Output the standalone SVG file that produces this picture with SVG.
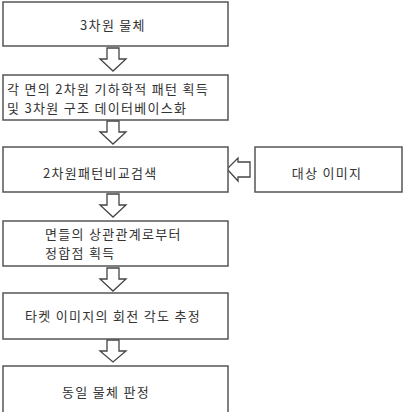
<svg xmlns="http://www.w3.org/2000/svg" width="405" height="412" viewBox="0 0 405 412">
<style>
.box{fill:#fff;stroke:#555;stroke-width:1.5}
.arr{fill:#fff;stroke:#444;stroke-width:1.3;stroke-linejoin:miter}
text{font-family:"Noto Sans CJK KR","Noto Sans",sans-serif;font-size:13px;fill:#333;letter-spacing:1.3px}
.c{text-anchor:middle}
</style>
<rect width="405" height="412" fill="#fff"/>
<g id="connectors">
<polygon class="arr" points="107,48 119,48 119,59 126,59 113,71 100,59 107,59"/>
<polygon class="arr" points="107,121 119,121 119,132 126,132 113,144 100,132 107,132"/>
<polygon class="arr" points="107,194 119,194 119,205 126,205 113,217 100,205 107,205"/>
<polygon class="arr" points="107,268 119,268 119,279 126,279 113,291 100,279 107,279"/>
<polygon class="arr" points="107,340 119,340 119,351 126,351 113,362 100,351 107,351"/>
<polygon class="arr" points="250,162 250,177 238,177 238,181 227,169 238,158 238,162"/>
</g>
<g id="n1"><rect class="box" x="3" y="2" width="225" height="44"/><text class="c" x="113" y="30">3차원 물체</text></g>
<g id="n2"><rect class="box" x="3" y="75" width="225" height="45"/><text x="7" y="94">각 면의 2차원 기하학적 패턴 획득</text><text x="7" y="113">및 3차원 구조 데이터베이스화</text></g>
<g id="n3"><rect class="box" x="3" y="147" width="225" height="45"/><text x="43" y="178">2차원패턴비교검색</text></g>
<g id="n4"><rect class="box" x="255" y="147" width="147" height="45"/><text class="c" x="327" y="178">대상 이미지</text></g>
<g id="n5"><rect class="box" x="3" y="221" width="225" height="45"/><text x="45" y="239">면들의 상관관계로부터</text><text x="45" y="258">정합점 획득</text></g>
<g id="n6"><rect class="box" x="3" y="293" width="225" height="46"/><text x="25" y="321">타켓 이미지의 회전 각도 추정</text></g>
<g id="n7"><rect class="box" x="3" y="366" width="225" height="50"/><text x="62" y="397">동일 물체 판정</text></g>
</svg>
